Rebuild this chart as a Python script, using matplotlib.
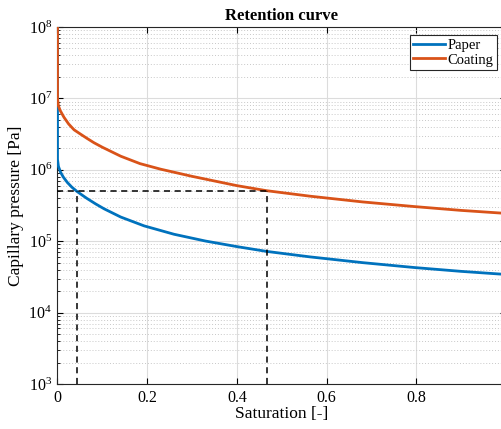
import numpy as np
import matplotlib
matplotlib.use('Agg')
import matplotlib.pyplot as plt
from matplotlib.ticker import LogLocator, NullFormatter

plt.rcParams['font.family'] = ['Liberation Serif', 'DejaVu Serif']
plt.rcParams['mathtext.fontset'] = 'custom'
plt.rcParams['mathtext.rm'] = 'Liberation Serif'

# Paper curve
paper_S = [0.0, 0.0, 0.002, 0.007, 0.013, 0.022, 0.032, 0.043, 0.055, 0.066, 0.085,
           0.104, 0.141, 0.193, 0.26, 0.33, 0.4, 0.466, 0.563, 0.68, 0.797, 0.9, 1.0]
paper_P = [1e9, 1.4e6, 1.12e6, 9.2e5, 7.9e5, 6.64e5, 5.71e5, 5.0e5, 4.42e5, 3.96e5, 3.33e5,
           2.84e5, 2.18e5, 1.64e5, 1.25e5, 1.005e5, 8.4e4, 7.2e4, 6.03e4, 5.01e4, 4.27e4,
           3.78e4, 3.42e4]

# Coating curve
coat_S = [0.0, 0.0, 0.002, 0.006, 0.0145, 0.025, 0.037, 0.05, 0.066, 0.081, 0.1,
          0.141, 0.184, 0.23, 0.3, 0.4, 0.466, 0.563, 0.68, 0.797, 0.9, 1.0]
coat_P = [1e9, 1e7, 7.9e6, 6.76e6, 5.43e6, 4.37e6, 3.63e6, 3.2e6, 2.75e6, 2.4e6, 2.07e6,
          1.55e6, 1.22e6, 1.02e6, 8.1e5, 6.0e5, 5.1e5, 4.27e5, 3.55e5, 3.05e5, 2.7e5, 2.45e5]

# guide lines at 5e5 Pa
guide_S = [0.044, 0.466]
guide_P = 5e5

W, H = 502, 429
fig = plt.figure(figsize=(W / 100, H / 100), dpi=100)
ax = fig.add_axes([57.5 / W, 45 / H, (506 - 57.5) / W, (384 - 27) / H])

ax.plot(paper_S, paper_P, color='#0072BD', lw=2, label='Paper', zorder=3)
ax.plot(coat_S, coat_P, color='#D95319', lw=2, label='Coating', zorder=3)

ax.plot([0, guide_S[1]], [guide_P, guide_P], 'k--', lw=1.1, dashes=(4, 3), zorder=4)
for s in guide_S:
    ax.plot([s, s], [1e3, guide_P], 'k--', lw=1.1, dashes=(4, 3), zorder=4)

ax.set_yscale('log')
ax.set_xlim(0, 1)
ax.set_ylim(1e3, 1e8)
ax.set_xticks([0, 0.2, 0.4, 0.6, 0.8])
ax.set_xticklabels(['0', '0.2', '0.4', '0.6', '0.8'])
ax.yaxis.set_major_locator(LogLocator(base=10, numticks=10))
ax.yaxis.set_minor_locator(LogLocator(base=10, subs=np.arange(2, 10), numticks=20))
ax.yaxis.set_minor_formatter(NullFormatter())

ax.grid(True, which='major', color='#dcdcdc', lw=0.8, ls='-')
ax.grid(True, which='minor', axis='y', color='#c8c8c8', lw=0.7, ls=(0, (1, 2)))
ax.set_axisbelow(True)

ax.tick_params(which='both', direction='in', top=True, right=True, labelsize=11.5, pad=4)
ax.tick_params(which='major', length=4, width=0.8)
ax.tick_params(which='minor', length=2, width=0.6)
for sp in ax.spines.values():
    sp.set_color('#262626')
    sp.set_linewidth(0.8)

ax.set_title('Retention curve', fontsize=12, fontweight='bold', pad=5)
ax.set_xlabel('Saturation [-]', fontsize=12.5, labelpad=0)
ax.set_ylabel('Capillary pressure [Pa]', fontsize=12.5, labelpad=3)

leg = ax.legend(loc='upper right', bbox_to_anchor=(497 / W, (429 - 35) / H),
                bbox_transform=fig.transFigure, fancybox=False, framealpha=1,
                edgecolor='#262626', fontsize=10.5, handlelength=2.2,
                handletextpad=0.15, borderpad=0.25, labelspacing=0.1, borderaxespad=0)
leg.get_frame().set_linewidth(0.8)

fig.savefig('out.png', dpi=100)
